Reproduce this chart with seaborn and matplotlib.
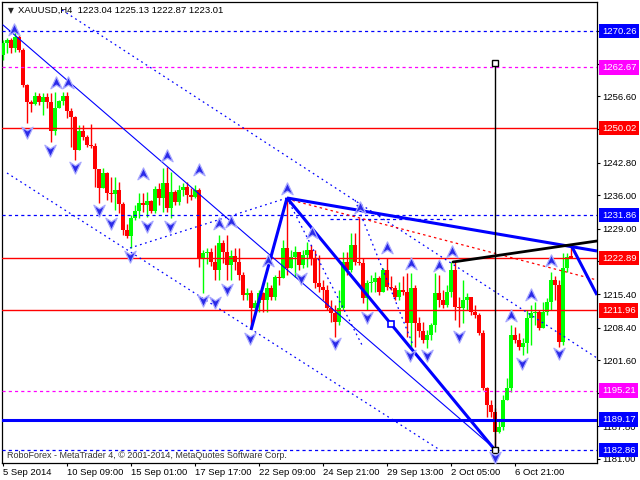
import numpy as np
import pandas as pd
import matplotlib
matplotlib.use("Agg")
import matplotlib.pyplot as plt
import matplotlib.transforms as mtransforms
from matplotlib.path import Path
import seaborn as sns

# ---------------- data ----------------
first_open = 1265.26
close = [1267.76, 1268.39, 1266.72, 1269.01, 1266.30, 1259.00, 1255.45, 1255.04, 1256.70, 1255.45,
         1256.50, 1255.45, 1249.40, 1254.20, 1255.66, 1256.70, 1253.57, 1252.32, 1245.44, 1249.40,
         1248.15, 1246.48, 1246.27, 1241.48, 1237.51, 1240.64, 1236.47, 1236.26, 1237.10, 1234.18,
         1228.75, 1227.50, 1231.26, 1232.72, 1234.38, 1233.97, 1234.80, 1232.72, 1237.30, 1235.43,
         1238.56, 1233.34, 1236.68, 1234.59, 1237.10, 1237.72, 1236.05, 1235.64, 1237.10, 1222.91,
         1223.95, 1224.16, 1222.08, 1220.41, 1226.04, 1224.16, 1221.45, 1223.33, 1222.08, 1219.37,
         1215.20, 1215.61, 1212.48, 1213.52, 1215.61, 1214.15, 1216.65, 1214.78, 1218.95, 1218.74,
         1225.00, 1220.83, 1223.12, 1224.16, 1221.45, 1223.54, 1224.58, 1222.91, 1217.70, 1216.86,
         1216.24, 1212.48, 1211.44, 1209.56, 1212.48, 1222.08, 1220.41, 1225.62, 1222.08, 1221.87,
         1214.57, 1217.70, 1217.91, 1218.74, 1215.82, 1220.41, 1216.86, 1216.65, 1214.78, 1216.24,
         1215.82, 1209.35, 1216.65, 1209.35, 1207.68, 1205.81, 1206.85, 1208.94, 1215.61, 1214.15,
         1213.11, 1215.82, 1220.41, 1212.69, 1212.48, 1214.15, 1214.78, 1211.65, 1211.02, 1207.27,
         1195.79, 1192.25, 1190.79, 1186.61, 1187.66, 1193.29, 1195.79, 1206.85, 1205.81, 1204.35,
         1205.18, 1210.40, 1211.44, 1211.65, 1208.31, 1211.65, 1213.73, 1218.32, 1217.28, 1205.39,
         1220.83, 1223.04, 1223.01]
high = [1268.39, 1268.80, 1268.80, 1271.52, 1269.43, 1266.72, 1259.21, 1255.87, 1257.54, 1257.33,
        1257.33, 1257.33, 1257.33, 1257.54, 1255.87, 1257.54, 1257.54, 1254.20, 1252.53, 1250.66,
        1250.66, 1248.57, 1250.86, 1246.90, 1241.48, 1241.69, 1240.85, 1239.81, 1239.81, 1238.77,
        1234.59, 1230.00, 1231.88, 1233.97, 1236.47, 1236.47, 1236.68, 1235.01, 1237.93, 1238.56,
        1241.69, 1241.90, 1240.85, 1237.10, 1238.14, 1238.56, 1238.77, 1237.51, 1238.14, 1237.51,
        1224.58, 1225.00, 1225.00, 1225.62, 1227.71, 1226.67, 1227.71, 1224.58, 1225.00, 1225.00,
        1219.99, 1216.65, 1216.24, 1214.15, 1216.24, 1215.82, 1217.91, 1217.28, 1219.37, 1220.41,
        1226.67, 1235.64, 1224.58, 1225.41, 1224.16, 1224.58, 1226.25, 1225.62, 1224.58, 1223.54,
        1218.32, 1217.28, 1214.15, 1213.11, 1216.24, 1224.16, 1224.16, 1228.13, 1228.13, 1231.26,
        1222.91, 1218.32, 1219.37, 1219.99, 1219.16, 1220.83, 1222.91, 1219.16, 1217.28, 1217.91,
        1219.16, 1219.78, 1219.78, 1217.28, 1210.61, 1209.56, 1207.89, 1209.35, 1219.78, 1219.37,
        1216.24, 1217.28, 1222.08, 1222.08, 1214.78, 1218.32, 1215.61, 1214.78, 1213.11, 1211.44,
        1207.89, 1196.00, 1193.29, 1191.62, 1189.12, 1194.33, 1197.88, 1208.94, 1208.52, 1207.27,
        1206.22, 1212.07, 1213.11, 1213.73, 1212.07, 1213.73, 1214.57, 1219.99, 1219.16, 1218.32,
        1223.95, 1223.95, 1225.13]
low = [1264.21, 1265.67, 1265.67, 1265.88, 1265.88, 1258.58, 1251.07, 1253.37, 1254.83, 1254.83,
       1252.74, 1254.20, 1247.11, 1248.57, 1254.20, 1254.83, 1252.11, 1246.06, 1243.35, 1245.44,
       1247.53, 1246.06, 1245.86, 1237.72, 1234.38, 1237.51, 1235.01, 1234.59, 1232.93, 1232.30,
       1227.71, 1227.08, 1225.00, 1230.84, 1231.26, 1232.51, 1231.46, 1232.30, 1232.30, 1233.97,
       1232.51, 1232.51, 1231.26, 1233.97, 1233.97, 1235.85, 1234.38, 1235.01, 1235.43, 1221.03,
       1215.61, 1221.66, 1221.24, 1218.32, 1218.32, 1221.87, 1218.32, 1218.32, 1220.41, 1218.32,
       1214.15, 1214.15, 1208.31, 1211.02, 1211.65, 1211.65, 1211.65, 1214.15, 1214.15, 1217.28,
       1218.74, 1219.37, 1220.83, 1218.95, 1220.41, 1220.83, 1221.03, 1221.45, 1216.65, 1215.82,
       1214.15, 1212.07, 1209.56, 1206.43, 1208.94, 1212.07, 1219.37, 1219.99, 1221.45, 1221.45,
       1213.52, 1212.07, 1215.82, 1215.82, 1215.20, 1215.82, 1216.24, 1216.24, 1214.15, 1214.15,
       1215.20, 1206.43, 1204.14, 1204.35, 1206.43, 1205.18, 1204.14, 1205.81, 1207.48, 1212.69,
       1212.48, 1212.69, 1214.78, 1209.98, 1208.52, 1209.35, 1212.07, 1211.02, 1210.40, 1206.85,
       1195.38, 1189.74, 1189.74, 1182.86, 1186.40, 1187.03, 1193.29, 1194.96, 1205.18, 1203.73,
       1202.68, 1203.10, 1204.76, 1208.94, 1207.89, 1208.31, 1211.02, 1212.07, 1214.15, 1204.35,
       1204.76, 1219.99, 1222.87]

x_tick_bars = [0, 16, 32, 48, 64, 80, 96, 112, 128]
x_tick_labels = ["5 Sep 2014", "10 Sep 09:00", "15 Sep 01:00", "17 Sep 17:00", "22 Sep 09:00",
                 "24 Sep 21:00", "29 Sep 13:00", "2 Oct 05:00", "6 Oct 21:00"]
# visible price-scale ticks (the others sit under the coloured level boxes)
y_ticks = [1256.60, 1242.80, 1236.00, 1229.00, 1215.40, 1208.40, 1201.60, 1187.80, 1181.00]
y_hidden_ticks = [1270.20, 1263.40, 1249.80, 1222.20, 1194.80]

level_values = [1270.26, 1262.67, 1250.02, 1231.86, 1222.89, 1211.96, 1195.21, 1189.17, 1182.86]

# fractal arrows (bar index, price)
up_bars = [2.75, 13.25, 16.25, 35, 41, 49, 54, 57, 66.25, 71, 77.25, 89.25, 96, 102, 109, 112.25, 127, 132, 137]
up_prices = [1270.47, 1259.42, 1259.42, 1240.43, 1244.19, 1241.27, 1230.00, 1230.42, 1222.29, 1237.30,
             1228.13, 1233.34, 1225.00, 1221.66, 1221.24, 1224.16, 1210.81, 1215.20, 1222.29]
down_bars = [6, 11.75, 18, 24, 27, 31.75, 36, 41.75, 50, 53, 56, 61.75, 74.5, 83, 91, 101.75, 106, 114, 123, 129.75, 139]
down_prices = [1249.20, 1245.44, 1241.90, 1232.93, 1230.21, 1223.33, 1229.59, 1229.59, 1214.15, 1213.73, 1216.44,
               1206.22, 1218.74, 1205.18, 1210.61, 1202.68, 1202.68, 1206.64, 1181.40, 1201.01, 1203.10]

# trend lines (bar index, price)
thin_x = [0, 123]
thin_y = [1271.52, 1183.07]
dashed_x = [[14.75, 148.5], [1, 109.25], [31.75, 71], [71, 89.75], [88, 102.5], [81.75, 112.5]]
dashed_y = [[1274.64, 1202.05], [1240.64, 1182.86], [1225.00, 1235.43], [1235.43, 1204.76],
            [1235.01, 1204.76], [1231.05, 1231.05]]
thick_x = [[62, 71], [71, 97], [97, 123], [71, 148.5], [142, 148.5]]
thick_y = [[1207.89, 1235.43], [1235.43, 1209.14], [1209.14, 1182.86], [1235.43, 1224.37], [1225.62, 1215.20]]
black_x = [112.5, 148.5]
black_y = [1222.08, 1226.46]
red_dash_x = [71, 148.5]
red_dash_y = [1235.22, 1218.32]
vline_bar = 123
vline_prices = [1182.86, 1263.60]
blue_square = [97, 1209.14]

# ---------------- style ----------------
sns.set_style("white")
plt.rcParams["font.family"] = ["Liberation Sans", "DejaVu Sans"]

fig = plt.figure(figsize=(6.4, 4.8), dpi=100)
ax = fig.add_axes([2 / 640, 17 / 480, 595 / 640, 461 / 480])
ax.set_xlim(-0.25, 148.5)
ax.set_ylim(1180.15, 1276.31)

# candles
n = len(close)
idx = np.arange(n)
c = np.array(close)
o = np.array([first_open] + close[:-1])
up = c >= o
cols = np.where(up, "#00ff00", "#ff0000")
ax.vlines(idx, low, high, colors=cols, lw=1.0, zorder=3)
body_bottom = np.minimum(o, c)
body_h = np.maximum(np.abs(c - o), 0.3)
ax.bar(idx, body_h, bottom=body_bottom, width=0.8, color=cols, linewidth=0, zorder=4)

# horizontal levels
level_styles = [
    ("#0000ff", (0, (2.5, 2.5)), 0.9),
    ("#ff00ff", (0, (2.5, 2.5)), 0.9),
    ("#ff0000", "-", 1.0),
    ("#0000ff", (0, (2.5, 2.5)), 0.9),
    ("#ff0000", "-", 1.0),
    ("#ff0000", "-", 1.0),
    ("#ff00ff", (0, (2.5, 2.5)), 0.9),
    ("#0000ff", "-", 2.2),
    ("#0000ff", (0, (2.5, 2.5)), 0.9),
]
for v, (col, ls, lw) in zip(level_values, level_styles):
    ax.axhline(v, color=col, ls=ls, lw=lw, zorder=5)

# trend lines
ax.plot(thin_x, thin_y, color="#0000ff", lw=0.8, zorder=5)
for i, (xs, ys) in enumerate(zip(dashed_x, dashed_y)):
    ls = (0, (2.5, 2.5)) if i == 5 else (0, (1.4, 2.8))
    ax.plot(xs, ys, color="#0000ff", lw=0.9, ls=ls, zorder=5)
ax.plot(red_dash_x, red_dash_y, color="#ff0000", lw=0.9, ls=(0, (2.0, 2.5)), zorder=5)
for xs, ys in zip(thick_x, thick_y):
    ax.plot(xs, ys, color="#0000ff", lw=2.2, zorder=6, solid_capstyle="butt")
ax.plot(black_x, black_y, color="black", lw=2.0, zorder=6)
ax.plot([vline_bar, vline_bar], vline_prices, color="black", lw=1.0, zorder=6)
ax.plot([vline_bar, vline_bar], vline_prices, ls="none", marker="s", ms=4, mfc="white",
        mec="black", mew=1.0, zorder=7)
ax.plot([blue_square[0]], [blue_square[1]], ls="none", marker="s", ms=4, mfc="white",
        mec="#0000ff", mew=1.2, zorder=7)

# fractal arrows
up_path = Path([(0, 1), (0.85, -0.8), (0, -0.25), (-0.85, -0.8), (0, 1)],
               [Path.MOVETO, Path.LINETO, Path.LINETO, Path.LINETO, Path.CLOSEPOLY])
down_path = Path([(0, -1), (0.85, 0.8), (0, 0.25), (-0.85, 0.8), (0, -1)],
                 [Path.MOVETO, Path.LINETO, Path.LINETO, Path.LINETO, Path.CLOSEPOLY])
df_up = pd.DataFrame({"bar": up_bars, "price": up_prices})
df_dn = pd.DataFrame({"bar": down_bars, "price": down_prices})
sns.scatterplot(data=df_up, x="bar", y="price", marker=up_path, s=90, color="#2a2ae8",
                edgecolor="#a8a8ff", linewidth=0.9, ax=ax, zorder=8, legend=False)
sns.scatterplot(data=df_dn, x="bar", y="price", marker=down_path, s=90, color="#2a2ae8",
                edgecolor="#a8a8ff", linewidth=0.9, ax=ax, zorder=8, legend=False)

# axes / ticks
for sp in ax.spines.values():
    sp.set_color("black")
    sp.set_linewidth(0.9)
    sp.set_visible(True)
ax.yaxis.tick_right()
ax.set_yticks(y_ticks)
ax.set_yticklabels([f"{v:.2f}" for v in y_ticks])
ax.set_yticks(y_hidden_ticks, minor=True)
ax.set_xticks(x_tick_bars)
ax.set_xticklabels(x_tick_labels, ha="left")
ax.tick_params(axis="y", which="both", right=True, left=False, length=2.5, width=0.8, pad=1.5,
               labelsize=6.8, colors="black", direction="out")
ax.tick_params(axis="x", bottom=True, length=2.5, width=0.8, pad=1.0,
               labelsize=6.8, colors="black", direction="out")
ax.set_xlabel("")
ax.set_ylabel("")

# right-hand price boxes
level_box_colors = ["#0000ff", "#ff00ff", "#ff0000", "#0000ff", "#ff0000", "#ff0000",
                    "#ff00ff", "#0000ff", "#0000ff"]
trans = mtransforms.blended_transform_factory(ax.transAxes, ax.transData)
for v, col in zip(level_values, level_box_colors):
    ax.text(1.0 + 5 / 595, v, f"{v:.2f}", transform=trans, color="white", fontsize=6.8,
            va="center", ha="left", clip_on=False, zorder=10,
            bbox=dict(boxstyle="square,pad=0.3", fc=col, ec="none"))

# header / footer texts
fig.text(8 / 640, 1 - 11 / 480, "\u25BC", fontsize=5.5, family=["DejaVu Sans"], va="center", ha="left")
fig.text(18 / 640, 1 - 10 / 480, "XAUUSD,H4  1223.04 1225.13 1222.87 1223.01",
         fontsize=6.8, va="center", ha="left", color="black")
fig.text(7 / 640, 1 - 455 / 480,
         "RoboForex - MetaTrader 4, \u00A9 2001-2014, MetaQuotes Software Corp.",
         fontsize=6.5, va="center", ha="left", color="#333333")

fig.savefig("out.png", dpi=100)
